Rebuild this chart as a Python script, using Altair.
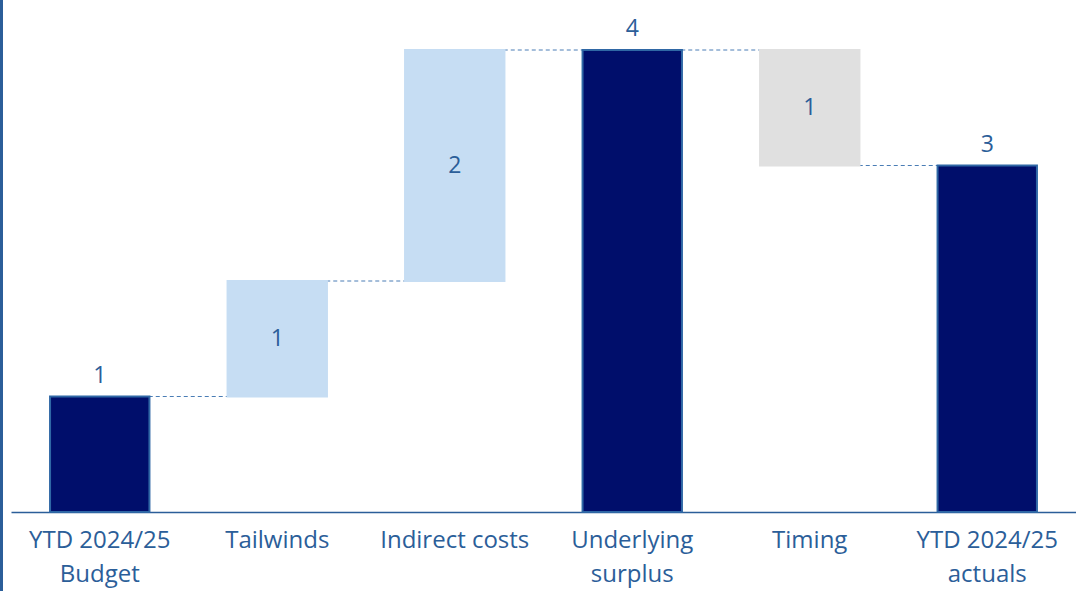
import altair as alt
import pandas as pd

categories = ["YTD 2024/25\nBudget", "Tailwinds", "Indirect costs", "Underlying\nsurplus", "Timing", "YTD 2024/25\nactuals"]
starts = [0, 1, 2, 0, 4, 0]
ends = [1, 2, 4, 4, 3, 3]
value_labels = ["1", "1", "2", "4", "1", "3"]
kinds = ["total", "increase", "increase", "total", "decrease", "total"]

df = pd.DataFrame({"cat": categories, "start": starts, "end": ends, "label": value_labels, "kind": kinds})
df["mid"] = (df["start"] + df["end"]) / 2

rows = []
for i in range(len(categories) - 1):
    rows.append({"cat": categories[i], "level": ends[i], "seg": i})
    rows.append({"cat": categories[i + 1], "level": ends[i], "seg": i})
conn = pd.DataFrame(rows)

TEXT = "#2B5E99"
FONT = "Open Sans"
x_scale = alt.Scale(domain=categories, paddingInner=0.44, paddingOuter=0.22)
x_axis = alt.Axis(title=None, labelExpr="split(datum.label, '\\n')", labelAngle=0,
                  labelFontSize=24, labelColor=TEXT, labelFont=FONT, labelPadding=28,
                  labelLineHeight=34, ticks=False, domainColor="#2B5E99", domainWidth=1.5,
                  labelBaseline="middle", grid=False)
y_scale = alt.Scale(domain=[0, 4], nice=False)


def X():
    return alt.X("cat:N", scale=x_scale, axis=x_axis)


connectors = alt.Chart(conn).mark_line(color="#4A7DB5", strokeDash=[4, 3], strokeWidth=1).encode(
    x=X(),
    y=alt.Y("level:Q", scale=y_scale, axis=None),
    detail="seg:N",
)

bars = alt.Chart(df).mark_bar(strokeWidth=2).encode(
    x=X(),
    y=alt.Y("start:Q", scale=y_scale, axis=None),
    y2="end:Q",
    fill=alt.Fill("kind:N", scale=alt.Scale(domain=["total", "increase", "decrease"],
                                            range=["#000E6B", "#C6DDF3", "#E0E0E0"]), legend=None),
    stroke=alt.Stroke("kind:N", scale=alt.Scale(domain=["total", "increase", "decrease"],
                                                range=["#2F67A5", "#C6DDF3", "#E0E0E0"]), legend=None),
)

total_labels = alt.Chart(df).transform_filter("datum.kind == 'total'").mark_text(
    fontSize=23, color=TEXT, font=FONT, dy=-21, baseline="middle").encode(
    x=X(), y=alt.Y("end:Q", scale=y_scale, axis=None), text="label:N")

delta_labels = alt.Chart(df).transform_filter("datum.kind != 'total'").mark_text(
    fontSize=23, color=TEXT, font=FONT, baseline="middle").encode(
    x=X(), y=alt.Y("mid:Q", scale=y_scale, axis=None), text="label:N")

border = alt.Chart(df).mark_rule(color="#2B5E99", strokeWidth=3).encode(
    x=alt.value(-9.5), y=alt.value(-50), y2=alt.value(541))

chart = alt.layer(connectors, bars, total_labels, delta_labels, border).properties(
    width=1065, height=462,
    padding={"left": 11, "top": 50, "right": 0, "bottom": 79},
    autosize=alt.AutoSizeParams(type="none"),
).configure_view(stroke=None)

chart.save("out.html", embed_options={"renderer": "svg", "actions": False})
